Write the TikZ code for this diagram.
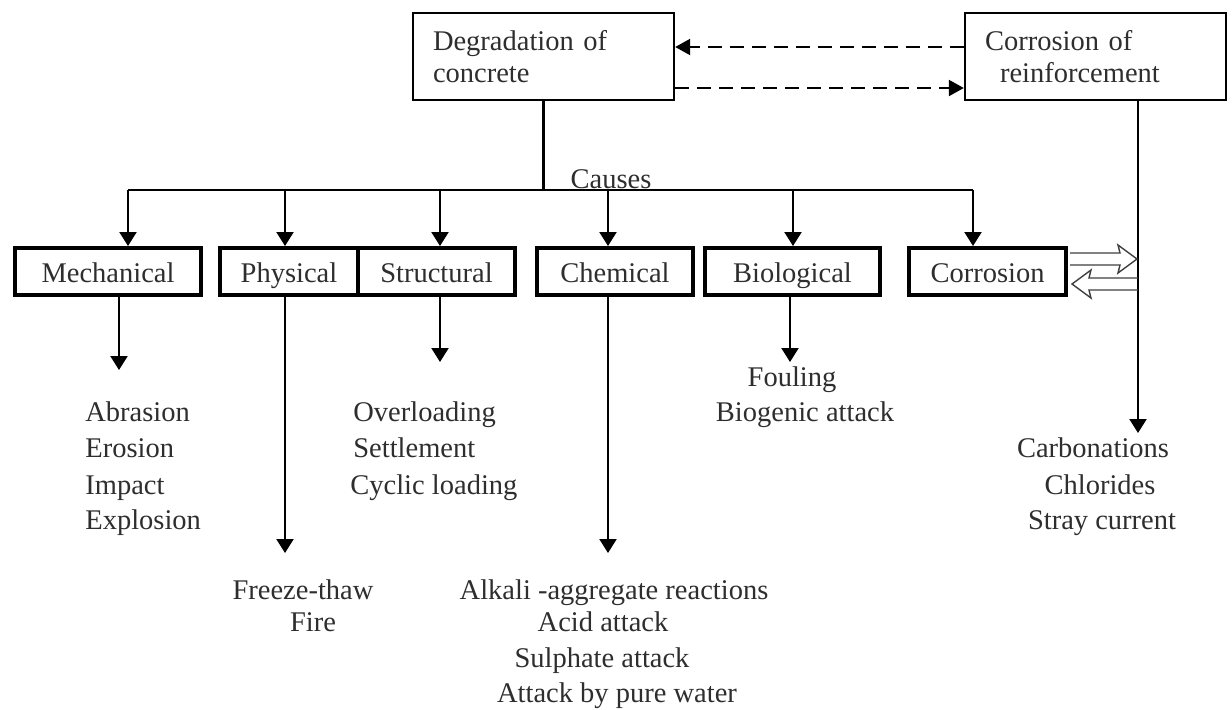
\documentclass[tikz,border=0pt]{standalone}
\usepackage{fontspec}
\setmainfont{Liberation Serif}
\usetikzlibrary{arrows.meta,calc}
\definecolor{ink}{HTML}{2E2E2E}
\begin{document}
\begin{tikzpicture}[x=0.5pt,y=-0.5pt,
  font=\fontsize{14.25}{18}\selectfont,
  txt/.style={text=ink, inner sep=0pt, text height=11pt, text depth=2pt},
  topbox/.style={draw, line width=1.2pt, minimum height=43.5pt, minimum width=130.5pt,
    align=left, text width=110.5pt, inner xsep=10pt, text=ink,
    font=\fontsize{14.25}{16}\selectfont},
  midbox/.style={draw, line width=2pt, minimum height=23.5pt, text=ink, inner sep=0pt,
    text height=12pt, text depth=1pt},
  arr/.style={line width=1.1pt, -{Triangle[length=7pt,width=8.5pt]}},
  ln/.style={line width=1.1pt},
  dsh/.style={line width=1.1pt, dash pattern=on 7pt off 4pt, -{Triangle[length=7.5pt,width=8pt]}},
  hol/.style={draw=black!75, line width=0.7pt, line join=miter},
]
\useasboundingbox (0,0) rectangle (1232,709);
\fill[white] (0,0) rectangle (1232,709);

% top boxes
\node[topbox] (deg) at (543.5,56.5) {Degradation of\\concrete};
\node[topbox] (cor) at (1095.5,56.5) {Corrosion of\\\hspace*{7.5pt}reinforcement};

% dashed connectors
\draw[dsh] ([yshift=4.75pt]cor.west) -- ([yshift=4.75pt]deg.east);
\draw[dsh] ([yshift=-15.75pt]deg.east) -- ([yshift=-15.75pt]cor.west);

% cause boxes
\node[midbox, minimum width=93pt] (mech) at (108,271.5) {Mechanical};
\node[midbox, minimum width=69pt] (phys) at (289,271.5) {Physical};
\node[midbox, minimum width=78.5pt] (stru) at (436.5,271.5) {Structural};
\node[midbox, minimum width=78pt] (chem) at (615,271.5) {Chemical};
\node[midbox, minimum width=87.5pt] (bio) at (792.5,271.5) {Biological};
\node[midbox, minimum width=78.5pt] (corr) at (987.5,271.5) {Corrosion};

% bus
\coordinate (j) at (545,190);
\coordinate (b1) at (128,190);
\coordinate (b2) at (285,190);
\coordinate (b3) at (440,190);
\coordinate (b4) at (608,190);
\coordinate (b5) at (793,190);
\coordinate (b6) at (973,190);
\draw[ln] (deg.south) -- (deg.south |- j);
\draw[ln] (b1) -- (b6);
\node[txt] (causes) at (611,179) {Causes};
\draw[arr] (b1) -- (b1 |- mech.north);
\draw[arr] (b2) -- (b2 |- phys.north);
\draw[arr] (b3) -- (b3 |- stru.north);
\draw[arr] (b4) -- (b4 |- chem.north);
\draw[arr] (b5) -- (b5 |- bio.north);
\draw[arr] (b6) -- (b6 |- corr.north);

% downward arrows
\coordinate (m1) at (119,370);
\coordinate (p1) at (285,553);
\coordinate (s1) at (440,362);
\coordinate (c1) at (608,553);
\coordinate (g1) at (790,362);
\coordinate (r1) at (1138,433);
\draw[arr] (m1 |- mech.south) -- (m1);
\draw[arr] (p1 |- phys.south) -- (p1);
\draw[arr] (s1 |- stru.south) -- (s1);
\draw[arr] (c1 |- chem.south) -- (c1);
\draw[arr] (g1 |- bio.south) -- (g1);
\draw[arr] (r1 |- cor.south) -- (r1);

% double hollow arrows
\coordinate (d1) at (1137,259);
\coordinate (d2) at (1138,284);
\coordinate (e1) at (d1 -| corr.east);
\coordinate (e2) at (d2 -| corr.east);
\draw[hol] ($(e1)+(2,-6)$) -- ($(d1)+(-17,-6)$) -- ($(d1)+(-19,-14)$) -- (d1)
  -- ($(d1)+(-19,14)$) -- ($(d1)+(-17,6)$) -- ($(e1)+(2,6)$);
\draw[hol] ($(d2)+(0,-6)$) -- ($(e2)+(21,-6)$) -- ($(e2)+(23,-14)$) -- ($(e2)+(4,0)$)
  -- ($(e2)+(23,14)$) -- ($(e2)+(21,6)$) -- ($(d2)+(0,6)$);

% lists
\node[txt, anchor=west] (t1) at (85,412) {Abrasion};
\node[txt, anchor=west] (t2) at (85,448) {Erosion};
\node[txt, anchor=west] (t3) at (85,485) {Impact};
\node[txt, anchor=west] (t4) at (85,520) {Explosion};

\node[txt, anchor=west] (s1t) at (353,412) {Overloading};
\node[txt, anchor=west] (s2t) at (353,448) {Settlement};
\node[txt, anchor=west] (s3t) at (350,485) {Cyclic loading};

\node[txt] (p1t) at (303,590) {Freeze-thaw};
\node[txt] (p2t) at (313,622) {Fire};

\node[txt] (c1t) at (614,590) {Alkali -aggregate reactions};
\node[txt] (c2t) at (603,622) {Acid attack};
\node[txt] (c3t) at (602,658) {Sulphate attack};
\node[txt] (c4t) at (617,693) {Attack by pure water};

\node[txt] (g1t) at (792,377) {Fouling};
\node[txt] (g2t) at (805,412) {Biogenic attack};

\node[txt] (r1t) at (1093,448) {Carbonations};
\node[txt] (r2t) at (1100,485) {Chlorides};
\node[txt] (r3t) at (1102,520) {Stray current};
\end{tikzpicture}
\end{document}
